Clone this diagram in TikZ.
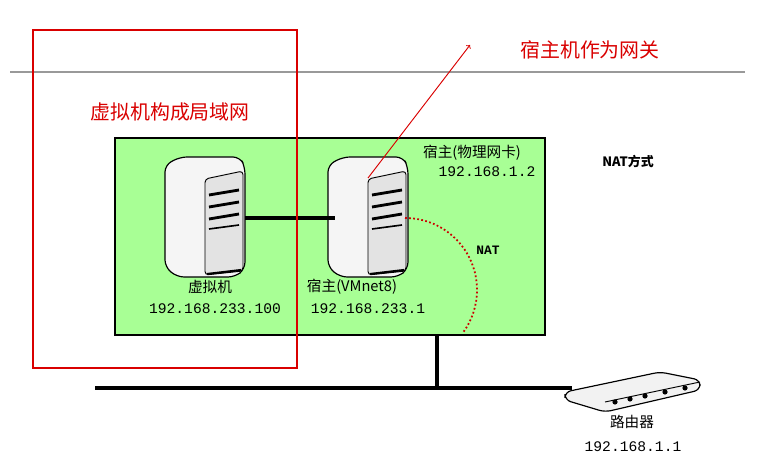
\documentclass[tikz,border=0pt]{standalone}
\usepackage{fontspec}
\setmonofont{Liberation Mono}
\newfontfamily\cjk{Noto Sans CJK SC}
\begin{document}
\begin{tikzpicture}[x=0.03cm,y=-0.03cm,
    lbl/.style={font=\cjk\fontsize{12.5}{14}\selectfont},
    ip/.style={font=\ttfamily\fontsize{12.5}{14}\selectfont},
    redtxt/.style={font=\cjk\fontsize{17}{20}\selectfont, red!85!black},
    bus/.style={line width=4pt}]
  \useasboundingbox (0,0) rectangle (783,461);

  % Trennlinie oben
  \draw[gray!80, line width=1.2pt] (10,72) -- (745,72);

  % gruenes Netz
  \draw[fill=green!35!white!90!lime, line width=1pt] (115,138) rectangle (545,335);

  % Server als Makro
  \newcommand{\tower}[2]{%
    \begin{scope}[shift={(#1,#2)}]
      \draw[fill=gray!8, line width=1pt, rounded corners=6] (0,8) -- (15,0) -- (75,0) -- (80,10) -- (80,112) -- (70,120) -- (12,120) -- (0,110) -- cycle;
      \draw[fill=gray!22, line width=0.8pt, rounded corners=3] (40,22) -- (78,14) -- (78,114) -- (40,118) -- cycle;
      \foreach \yy in {38,50,62}
        \draw[line width=2.4pt] (44,\yy) -- (74,\yy-5);
      \draw[line width=1.4pt] (44,72) -- (74,68);
      \draw[line width=1.8pt] (42,117) -- (76,113);
    \end{scope}}
  \tower{165}{157}
  \tower{328}{157}

  % Verbindung zwischen den Servern
  \draw[line width=3.2pt] (245,218) -- (335,218);

  % Beschriftungen
  \node[lbl] (vm) at (210,287) {虚拟机};
  \node[ip] (vmip) at (215,309) {192.168.233.100};
  \node[lbl] (host) at (352,287) {宿主(VMnet8)};
  \node[ip] (hostip) at (368,309) {192.168.233.1};
  \node[lbl] (phy) at (472,153) {宿主(物理网卡)};
  \node[ip] (phyip) at (487,172) {192.168.1.2};
  \node[font=\cjk\bfseries\fontsize{11}{13}\selectfont] (natway) at (628,162) {NAT方式};

  % NAT-Bogen
  \draw[red!80!black, dotted, line width=1.5pt] (405,218) arc (-90:36:72);
  \node[font=\ttfamily\bfseries\fontsize{11}{13}\selectfont] (nat) at (488,250) {NAT};

  % Bus und Router
  \draw[bus] (437,335) -- (437,388);
  \draw[bus] (95,388) -- (572,388);
  \draw[fill=gray!10, line width=1pt, rounded corners=5] (565,392) -- (660,372) -- (700,380) -- (700,390) -- (605,412) -- (565,400) -- cycle;
  \draw[line width=0.8pt] (605,402) -- (700,382);
  \foreach \xx in {615,630,645,665,685}
    \fill (\xx,{404-(\xx-605)*0.2}) circle (2.6);
  \node[lbl] (router) at (632,422) {路由器};
  \node[ip] (routerip) at (633,447) {192.168.1.1};

  % rote Markierungen
  \draw[red!85!black, line width=1pt] (33,30) rectangle (297,368);
  \node[redtxt] (lan) at (170,112) {虚拟机构成局域网};
  \node[redtxt] (gw) at (590,50) {宿主机作为网关};
  \coordinate (hostpt) at (368,178);
  \draw[->, red!85!black, line width=0.8pt] (hostpt) -- (470,45);
\end{tikzpicture}
\end{document}
